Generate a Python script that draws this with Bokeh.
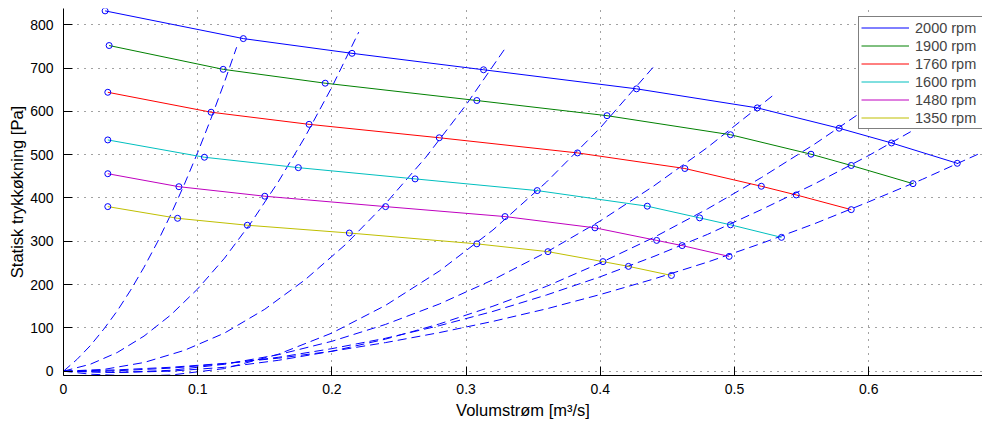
from bokeh.plotting import figure
from bokeh.models import Range1d, Legend, LegendItem, FixedTicker, NumeralTickFormatter
from bokeh.embed import file_html
from bokeh.resources import INLINE

# ---- fan curves (measured operating points) ----
labels = ["2000 rpm", "1900 rpm", "1760 rpm", "1600 rpm", "1480 rpm", "1350 rpm"]
colors = ["#0000FF", "#008000", "#FF0000", "#00BFBF", "#BF00BF", "#BFBF00"]

q_2000 = [0.031, 0.134, 0.215, 0.313, 0.427, 0.517, 0.578, 0.617, 0.666]
p_2000 = [832, 768, 734, 696, 652, 608, 561, 527, 480]
q_1900 = [0.034, 0.119, 0.195, 0.308, 0.405, 0.497, 0.557, 0.587, 0.633]
p_1900 = [752, 697, 665, 625, 590, 546, 501, 475, 433]
q_1760 = [0.033, 0.110, 0.183, 0.280, 0.383, 0.463, 0.520, 0.546, 0.587]
p_1760 = [644, 598, 570, 539, 504, 468, 427, 407, 373]
q_1600 = [0.033, 0.105, 0.175, 0.262, 0.353, 0.435, 0.474, 0.497, 0.535]
p_1600 = [534, 494, 470, 444, 417, 381, 354, 338, 309]
q_1480 = [0.033, 0.086, 0.150, 0.240, 0.329, 0.396, 0.442, 0.461, 0.496]
p_1480 = [456, 426, 404, 380, 357, 331, 302, 290, 265]
q_1350 = [0.033, 0.085, 0.137, 0.213, 0.308, 0.361, 0.402, 0.421, 0.453]
p_1350 = [380, 353, 337, 319, 294, 276, 253, 242, 221]

fan_q = [q_2000, q_1900, q_1760, q_1600, q_1480, q_1350]
fan_p = [p_2000, p_1900, p_1760, p_1600, p_1480, p_1350]

# ---- system curves (dashed) ----
q_sys1 = [0, 0.01, 0.02, 0.03, 0.04, 0.05, 0.06, 0.07, 0.08, 0.09, 0.10, 0.11, 0.12, 0.129]
p_sys1 = [0, 27, 59, 97, 139, 187, 240, 298, 362, 431, 505, 584, 668, 748]
q_sys2 = [0, 0.02, 0.04, 0.06, 0.08, 0.10, 0.12, 0.14, 0.16, 0.18, 0.20, 0.22]
p_sys2 = [0, 16, 43, 81, 130, 190, 261, 344, 437, 541, 656, 783]
q_sys3 = [0, 0.03, 0.06, 0.09, 0.12, 0.15, 0.18, 0.21, 0.24, 0.27, 0.30, 0.329]
p_sys3 = [0, 4, 20, 48, 88, 143, 211, 292, 387, 494, 615, 745]
q_sys4 = [0, 0.02, 0.05, 0.08, 0.12, 0.16, 0.20, 0.24, 0.28, 0.32, 0.36, 0.40, 0.44]
p_sys4 = [0, -7, -11, -9, 6, 39, 88, 152, 231, 326, 437, 562, 704]
q_sys5 = [0, 0.04, 0.08, 0.12, 0.16, 0.20, 0.24, 0.28, 0.32, 0.36, 0.40, 0.44, 0.48, 0.53]
p_sys5 = [0, -3, 2, 16, 38, 69, 108, 155, 211, 275, 347, 428, 517, 640]
q_sys6 = [0, 0.04, 0.08, 0.12, 0.16, 0.20, 0.24, 0.28, 0.32, 0.36, 0.40, 0.44, 0.48, 0.52, 0.56, 0.594]
p_sys6 = [0, -3, 0, 9, 25, 46, 74, 109, 150, 196, 250, 309, 375, 447, 525, 597]
q_sys7 = [0, 0.04, 0.08, 0.12, 0.16, 0.20, 0.24, 0.28, 0.32, 0.36, 0.40, 0.44, 0.48, 0.52, 0.56, 0.60, 0.633]
p_sys7 = [0, 1, 7, 17, 32, 52, 76, 105, 138, 176, 218, 265, 316, 373, 433, 498, 556]
q_sys8 = [0, 0.04, 0.08, 0.12, 0.16, 0.20, 0.24, 0.28, 0.32, 0.36, 0.40, 0.44, 0.48, 0.52, 0.56, 0.60, 0.64, 0.69]
p_sys8 = [0, 3, 9, 18, 30, 46, 66, 89, 115, 144, 177, 213, 252, 295, 341, 391, 443, 513]

sys_q = [q_sys1, q_sys2, q_sys3, q_sys4, q_sys5, q_sys6, q_sys7, q_sys8]
sys_p = [p_sys1, p_sys2, p_sys3, p_sys4, p_sys5, p_sys6, p_sys7, p_sys8]

x_ticks = [0, 0.1, 0.2, 0.3, 0.4, 0.5, 0.6]
y_ticks = [0, 100, 200, 300, 400, 500, 600, 700, 800]

FONT = "Liberation Sans"

p = figure(width=982, height=424, output_backend="svg", toolbar_location=None,
           x_range=Range1d(0, 0.6848), y_range=Range1d(-10, 837.5),
           min_border_left=63, min_border_right=0, min_border_top=8, min_border_bottom=49)
p.outline_line_color = None
p.background_fill_color = "white"
p.border_fill_color = "white"

# dashed system curves
for qs, ps in zip(sys_q, sys_p):
    p.line(qs, ps, line_color="#0000FF", line_width=1, line_dash="9 5")

# fan curves
items = []
for lab, col, qs, ps in zip(labels, colors, fan_q, fan_p):
    r = p.line(qs, ps, line_color=col, line_width=1)
    items.append(LegendItem(label=lab, renderers=[r]))
for qs, ps in zip(fan_q, fan_p):
    p.scatter(qs, ps, marker="circle", size=6, fill_color=None, line_color="#0000FF", line_width=1)

# axes
for ax in (p.xaxis[0], p.yaxis[0]):
    ax.axis_line_color = "black"
    ax.major_tick_line_color = "black"
    ax.major_tick_in = 9
    ax.major_tick_out = 0
    ax.minor_tick_line_color = None
    ax.major_label_text_font = FONT
    ax.major_label_text_font_size = "14px"
    ax.major_label_text_color = "black"
    ax.axis_label_text_font = FONT
    ax.axis_label_text_font_size = "16.5px"
    ax.axis_label_text_font_style = "normal"
    ax.axis_label_text_color = "black"

p.xaxis.ticker = FixedTicker(ticks=x_ticks)
p.xaxis.formatter = NumeralTickFormatter(format="0.[0]")
p.yaxis.ticker = FixedTicker(ticks=y_ticks)
p.xaxis.axis_label = "Volumstrøm [m³/s]"
p.yaxis.axis_label = "Statisk trykkøkning [Pa]"
p.xaxis.major_label_standoff = 8
p.xaxis.axis_label_standoff = 4
p.yaxis.major_label_standoff = 10
p.yaxis.axis_label_standoff = 1

p.xgrid.ticker = FixedTicker(ticks=x_ticks)
p.ygrid.ticker = FixedTicker(ticks=y_ticks)
for g in (p.xgrid[0], p.ygrid[0]):
    g.grid_line_color = "#444444"
    g.grid_line_dash = "1 6"
    g.grid_line_width = 1

legend = Legend(items=items, location=(795, 246))
legend.label_text_font = FONT
legend.label_text_font_size = "14.5px"
legend.glyph_width = 48
legend.glyph_height = 17
legend.label_height = 17
legend.label_width = 70
legend.spacing = 1
legend.padding = 2
legend.label_standoff = 6
legend.border_line_color = "black"
legend.border_line_width = 1
legend.background_fill_color = "white"
legend.background_fill_alpha = 1
p.add_layout(legend)

open("out.html", "w").write(file_html(p, INLINE))
